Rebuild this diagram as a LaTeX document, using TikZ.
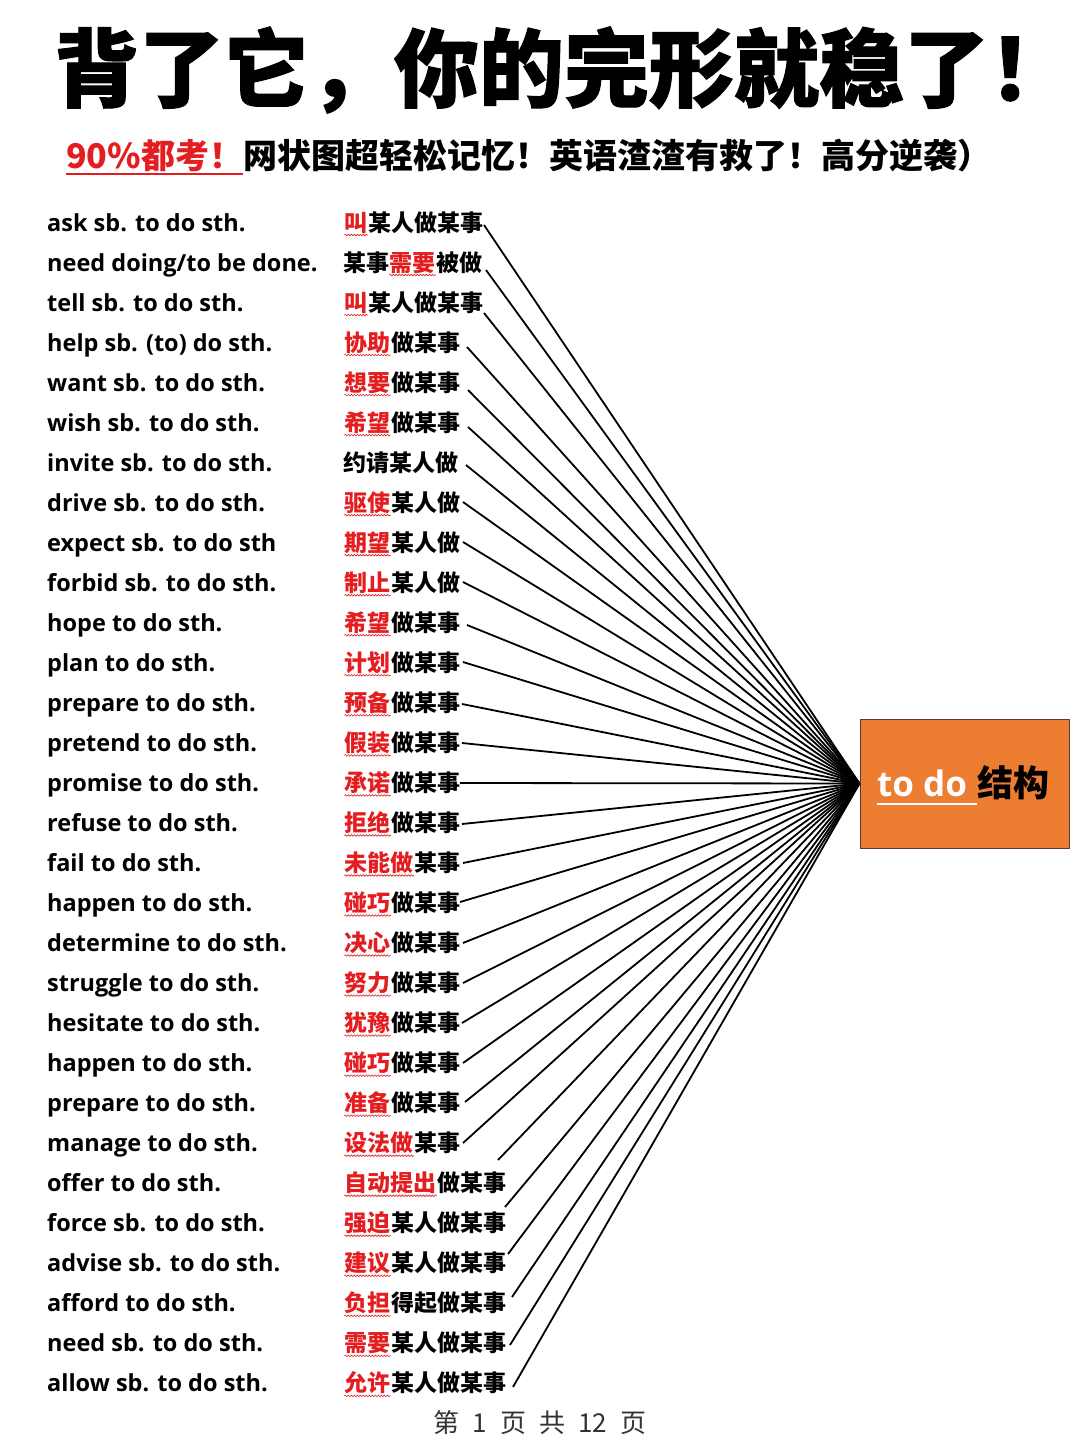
\documentclass[tikz,border=0pt]{standalone}
\usepackage{fontspec}
\usetikzlibrary{decorations.pathmorphing}
\newfontfamily\enfont{Open Sans}
\newfontfamily\cjk{Noto Sans CJK SC}
\newfontfamily\titlefont{Noto Sans CJK SC}[BoldFeatures={FakeBold=1.2}]
\definecolor{hlred}{RGB}{228,30,32}
\definecolor{boxorange}{RGB}{237,125,49}
\definecolor{boxedge}{RGB}{90,60,45}
\tikzset{
  txt/.style={inner sep=0pt, anchor=base west},
  entxt/.style={txt, font=\enfont\bfseries\fontsize{23.5}{25}\selectfont},
  cntxt/.style={txt, font=\cjk\bfseries\fontsize{23}{25}\selectfont},
  link/.style={line width=1.8pt, black},
  squiggle/.style={hlred, line width=0.6pt, decorate, decoration={snake, amplitude=0.8pt, segment length=3pt}},
  hubbox/.style={draw=boxedge, line width=1pt, fill=boxorange, minimum width=209pt, minimum height=129pt, inner sep=0pt}
}
\begin{document}
\begin{tikzpicture}[x=1pt, y=-1pt]
\useasboundingbox (0,0) rectangle (1080,1440);
\fill[white] (0,0) rectangle (1080,1440);
% title
\node[inner sep=0pt, font=\titlefont\bfseries\fontsize{85}{92}\selectfont] (title) at (564,70) {背了它，你的完形就稳了！};
% subtitle
\node[txt, font=\cjk\bfseries\fontsize{34}{37}\selectfont, text=hlred] (subred) at (66,168) {90\%都考！};
\node[txt, font=\cjk\bfseries\fontsize{34}{37}\selectfont] (subblack) at (subred.base east) {网状图超轻松记忆！英语渣渣有救了！高分逆袭）};
\draw[hlred, line width=2pt] ([yshift=-6pt]subred.base west) -- ([yshift=-6pt]subred.base east);
% hub box
\node[hubbox] (hub) at (964.5,783.5) {};
\node[txt, font=\enfont\bfseries\fontsize{35}{38}\selectfont, text=white] (todo) at (877,796) {to do};
\node[txt, font=\cjk\bfseries\fontsize{36}{38}\selectfont] (jiegou) at ([xshift=10pt]todo.base east) {结构};
\draw[white, line width=2pt] ([yshift=-8pt]todo.base west) -- ([yshift=-8pt,xshift=10pt]todo.base east);
% rows
\foreach \i/\en/\pre/\red/\post/\sx/\sy in {
 1/{ask sb. to do sth.}/{}/叫/某人做某事/484/225,
 2/{need doing/to be done.}/某事/需要/被做/486/270,
 3/{tell sb. to do sth.}/{}/叫/某人做某事/484/313,
 4/{help sb. (to) do sth.}/{}/协助/做某事/467/347,
 5/{want sb. to do sth.}/{}/想要/做某事/468/390,
 6/{wish sb. to do sth.}/{}/希望/做某事/468/427,
 7/{invite sb. to do sth.}/约请某人做/{}/{}/466/465,
 8/{drive sb. to do sth.}/{}/驱使/某人做/463/502,
 9/{expect sb. to do sth}/{}/期望/某人做/463/542,
 10/{forbid sb. to do sth.}/{}/制止/某人做/463/582,
 11/{hope to do sth.}/{}/希望/做某事/467/625,
 12/{plan to do sth.}/{}/计划/做某事/463/662,
 13/{prepare to do sth.}/{}/预备/做某事/462/704,
 14/{pretend to do sth.}/{}/假装/做某事/462/743,
 15/{promise to do sth.}/{}/承诺/做某事/460/783,
 16/{refuse to do sth.}/{}/拒绝/做某事/462/824,
 17/{fail to do sth.}/{}/未能做/某事/463/863,
 18/{happen to do sth.}/{}/碰巧/做某事/460/902,
 19/{determine to do sth.}/{}/决心/做某事/463/943,
 20/{struggle to do sth.}/{}/努力/做某事/463/983,
 21/{hesitate to do sth.}/{}/犹豫/做某事/462/1023,
 22/{happen to do sth.}/{}/碰巧/做某事/463/1063,
 23/{prepare to do sth.}/{}/准备/做某事/465/1102,
 24/{manage to do sth.}/{}/设法做/某事/463/1143,
 25/{offer to do sth.}/{}/自动提出/做某事/498/1160,
 26/{force sb. to do sth.}/{}/强迫/某人做某事/505/1207,
 27/{advise sb. to do sth.}/{}/建议/某人做某事/508/1254,
 28/{afford to do sth.}/{}/负担/得起做某事/512/1297,
 29/{need sb. to do sth.}/{}/需要/某人做某事/510/1345,
 30/{allow sb. to do sth.}/{}/允许/某人做某事/513/1387}{
  \pgfmathsetmacro{\ybase}{223+40.03*(\i-1)+8}
  \node[entxt] (e\i) at (47,\ybase) {\en};
  \node[cntxt] (p\i) at (343,\ybase) {\pre};
  \node[cntxt, text=hlred] (r\i) at (p\i.base east) {\red};
  \node[cntxt] (b\i) at (r\i.base east) {\post};
  \ifx\red\empty\else
    \draw[squiggle] ([yshift=-4pt]r\i.base west) -- ([yshift=-4pt]r\i.base east);
  \fi
  \coordinate (s\i) at (\sx,\sy);
  \draw[link] (s\i) -- (hub.west);
}
% footer
\node[inner sep=0pt, font=\cjk\fontsize{26}{28}\selectfont, text=black!80] (footer) at (540,1423) {第\hspace{13pt}1\hspace{13pt}页\hspace{13pt}共\hspace{13pt}12\hspace{13pt}页};
\end{tikzpicture}
\end{document}
